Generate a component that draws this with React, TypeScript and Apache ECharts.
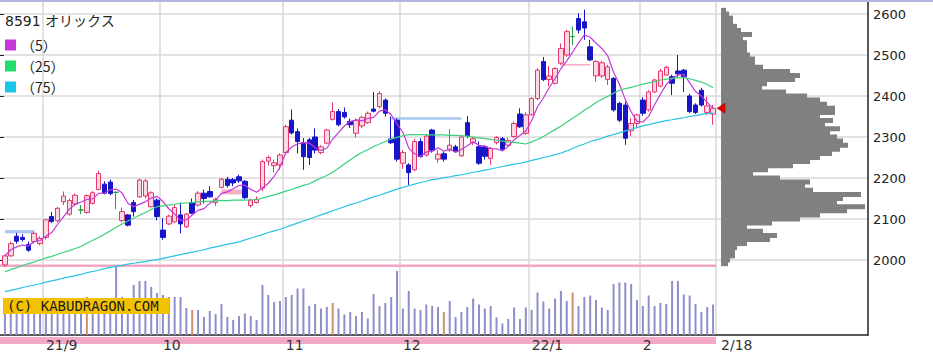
import React, { useEffect, useRef } from 'react';
import * as echarts from 'echarts';

// Trading days shown (late Aug 2021 - 18 Feb 2022)
const aug21 = [23, 24, 25, 26, 27, 30, 31];
const sep21 = [1, 2, 3, 6, 7, 8, 9, 10, 13, 14, 15, 16, 17, 21, 22, 24, 27, 28, 29, 30];
const oct21 = [1, 4, 5, 6, 7, 8, 11, 12, 13, 14, 15, 18, 19, 20, 21, 22, 25, 26, 27, 28, 29];
const nov21 = [1, 2, 4, 5, 8, 9, 10, 11, 12, 15, 16, 17, 18, 19, 22, 24, 25, 26, 29, 30];
const dec21 = [1, 2, 3, 6, 7, 8, 9, 10, 13, 14, 15, 16, 17, 20, 21, 22, 23, 24, 27, 28, 29, 30];
const jan22 = [4, 5, 6, 7, 11, 12, 13, 14, 17, 18, 19, 20, 21, 24, 25, 26, 27, 28, 31];
const feb22 = [1, 2, 3, 4, 7, 8, 9, 10, 14, 15, 16, 17, 18];
const monthKeys = ['2021/08', '2021/09', '2021/10', '2021/11', '2021/12', '2022/01', '2022/02'];
const monthDays = [aug21, sep21, oct21, nov21, dec21, jan22, feb22];
const monthTickLabels = ['', '21/9', '10', '11', '12', '22/1', '2'];
const lastDateLabel = '2/18';

const opens = [
  1988, 2010, 2058, 2055, 2038, 2045, 2040, 2055, 2106, 2096,
  2142, 2112, 2137, 2122, 2116, 2138, 2172, 2185, 2190, 2165,
  2096, 2110, 2140, 2154, 2156, 2130, 2146, 2073, 2088, 2093,
  2110, 2081, 2140, 2134, 2163, 2167, 2140, 2177, 2197, 2196,
  2203, 2192, 2133, 2140, 2175, 2241, 2230, 2232, 2262, 2341,
  2313, 2286, 2293, 2300, 2262, 2285, 2343, 2362, 2360, 2338,
  2309, 2327, 2335, 2368, 2374, 2390, 2295, 2341, 2236, 2232,
  2220, 2289, 2256, 2317, 2246, 2259, 2268, 2276, 2254, 2335,
  2286, 2276, 2276, 2248, 2286, 2296, 2280, 2301, 2356, 2309,
  2354, 2394, 2484, 2440, 2431, 2480, 2500, 2545, 2589, 2581,
  2520, 2449, 2449, 2440, 2443, 2382, 2378, 2315, 2333, 2390,
  2366, 2410, 2424, 2451, 2447, 2461, 2463, 2400, 2378, 2414,
  2360, 2356,
];
const closes = [
  2010, 2040, 2046, 2050, 2024, 2065, 2053, 2098, 2094, 2126,
  2156, 2145, 2158, 2122, 2157, 2164, 2211, 2163, 2162, 2165,
  2118, 2085, 2118, 2195, 2193, 2164, 2106, 2055, 2107, 2128,
  2088, 2112, 2114, 2163, 2150, 2154, 2148, 2197, 2182, 2188,
  2193, 2152, 2146, 2148, 2240, 2250, 2237, 2256, 2325, 2310,
  2289, 2252, 2250, 2268, 2276, 2317, 2362, 2330, 2349, 2330,
  2340, 2348, 2358, 2363, 2406, 2358, 2286, 2246, 2262, 2213,
  2289, 2252, 2302, 2268, 2258, 2246, 2280, 2264, 2300, 2303,
  2296, 2236, 2253, 2272, 2299, 2270, 2292, 2333, 2325, 2354,
  2394, 2463, 2440, 2449, 2467, 2516, 2557, 2545, 2561, 2566,
  2488, 2484, 2481, 2471, 2366, 2341, 2297, 2333, 2354, 2358,
  2410, 2439, 2461, 2470, 2431, 2454, 2447, 2362, 2360, 2378,
  2376, 2370,
];
const lows = [
  1983, 2008, 2040, 2045, 2020, 2040, 2036, 2050, 2090, 2092,
  2134, 2108, 2132, 2112, 2113, 2135, 2170, 2160, 2158, 2124,
  2092, 2082, 2106, 2152, 2150, 2128, 2097, 2049, 2085, 2090,
  2065, 2078, 2112, 2130, 2138, 2152, 2132, 2175, 2177, 2180,
  2188, 2148, 2128, 2138, 2168, 2230, 2213, 2220, 2258, 2306,
  2260, 2220, 2232, 2260, 2258, 2282, 2340, 2326, 2345, 2322,
  2299, 2322, 2332, 2360, 2370, 2350, 2283, 2240, 2222, 2183,
  2216, 2250, 2252, 2262, 2237, 2240, 2264, 2262, 2252, 2297,
  2280, 2232, 2245, 2232, 2282, 2268, 2276, 2298, 2322, 2305,
  2352, 2390, 2436, 2424, 2428, 2476, 2496, 2524, 2553, 2537,
  2485, 2435, 2444, 2427, 2362, 2336, 2281, 2302, 2322, 2352,
  2362, 2407, 2421, 2449, 2402, 2447, 2410, 2358, 2356, 2374,
  2354, 2330,
];
const highs = [
  2013, 2045, 2066, 2063, 2045, 2070, 2058, 2100, 2117, 2130,
  2167, 2150, 2162, 2134, 2160, 2168, 2218, 2192, 2196, 2168,
  2128, 2112, 2146, 2198, 2198, 2168, 2150, 2102, 2110, 2135,
  2140, 2115, 2150, 2168, 2172, 2180, 2152, 2200, 2203, 2200,
  2208, 2195, 2150, 2155, 2245, 2255, 2245, 2260, 2330, 2367,
  2321, 2297, 2298, 2321, 2280, 2320, 2384, 2368, 2372, 2345,
  2345, 2352, 2362, 2410, 2412, 2394, 2350, 2345, 2268, 2236,
  2295, 2297, 2306, 2320, 2268, 2264, 2319, 2281, 2305, 2351,
  2300, 2289, 2280, 2276, 2302, 2300, 2298, 2338, 2370, 2360,
  2397, 2468, 2495, 2473, 2470, 2528, 2562, 2569, 2602, 2611,
  2537, 2488, 2486, 2476, 2446, 2386, 2386, 2346, 2357, 2397,
  2414, 2442, 2466, 2474, 2452, 2500, 2466, 2405, 2382, 2420,
  2398, 2378,
];
const dojiDays = [13, 19, 97];

const ma25 = [
  1971, 1977, 1981, 1986, 1991, 1995, 2000, 2005, 2009, 2014,
  2019, 2023, 2028, 2033, 2041, 2048, 2055, 2063, 2071, 2080,
  2088, 2095, 2102, 2109, 2116, 2123, 2130, 2132, 2134, 2136,
  2138, 2139, 2140, 2142, 2143, 2143, 2144, 2145, 2145, 2146,
  2146, 2146, 2147, 2147, 2151, 2155, 2159, 2163, 2168, 2172,
  2177, 2182, 2186, 2193, 2200, 2206, 2214, 2224, 2234, 2244,
  2254, 2262, 2269, 2277, 2283, 2289, 2295, 2299, 2303, 2306,
  2306, 2306, 2305, 2305, 2305, 2305, 2304, 2304, 2303, 2302,
  2300, 2298, 2296, 2294, 2292, 2290, 2288, 2287, 2285, 2283,
  2288, 2294, 2301, 2310, 2318, 2326, 2336, 2346, 2355, 2365,
  2374, 2384, 2392, 2399, 2407, 2414, 2418, 2421, 2425, 2429,
  2432, 2435, 2439, 2441, 2443, 2445, 2445, 2442, 2438, 2434,
  2428, 2420,
];
const ma75 = [
  1923, 1926, 1929, 1933, 1936, 1939, 1942, 1946, 1949, 1952,
  1956, 1959, 1962, 1965, 1969, 1972, 1975, 1979, 1982, 1985,
  1987, 1990, 1992, 1994, 1996, 1999, 2001, 2004, 2007, 2010,
  2013, 2016, 2019, 2022, 2025, 2029, 2032, 2035, 2038, 2041,
  2044, 2049, 2053, 2058, 2062, 2067, 2071, 2075, 2080, 2085,
  2090, 2095, 2100, 2105, 2110, 2115, 2120, 2125, 2130, 2135,
  2139, 2144, 2149, 2154, 2158, 2163, 2168, 2173, 2177, 2181,
  2185, 2189, 2192, 2196, 2198, 2201, 2203, 2206, 2208, 2211,
  2214, 2216, 2219, 2222, 2225, 2228, 2231, 2234, 2236, 2239,
  2243, 2246, 2250, 2253, 2257, 2261, 2266, 2272, 2278, 2283,
  2289, 2293, 2297, 2302, 2306, 2310, 2315, 2319, 2323, 2327,
  2330, 2334, 2337, 2340, 2342, 2345, 2347, 2350, 2352, 2355,
  2357, 2359,
];

// daily volume (10k shares)
const volumes = [
  560, 520, 600, 480, 540, 600, 500, 640, 560, 600,
  520, 580, 540, 500, 760, 600, 660, 620, 600, 1380,
  760, 700, 1000, 1080, 1080, 960, 840, 800, 760, 760,
  760, 540, 500, 500, 360, 480, 420, 620, 360, 300,
  380, 430, 380, 300, 1000, 800, 660, 680, 760, 800,
  930, 930, 580, 620, 530, 560, 640, 530, 410, 460,
  380, 460, 330, 820, 580, 640, 760, 1280, 530, 880,
  530, 500, 610, 580, 560, 460, 680, 360, 460, 560,
  730, 610, 530, 580, 350, 230, 320, 550, 320, 550,
  500, 850, 670, 530, 730, 880, 680, 850, 580, 760,
  790, 700, 550, 500, 1020, 1050, 1050, 1020, 700, 580,
  790, 580, 640, 620, 1080, 1080, 810, 790, 620, 460,
  560, 610,
];
const highlightedVolumeDays = [14, 32, 56, 75, 97];

// price-by-volume profile, 10-yen bins from 1990 to 2610
const profileBinStart = 1990;
const profileBinStep = 10;
const profileVolumes = [
  7, 9, 14, 14, 16, 26, 49, 56, 42, 26,
  51, 79, 99, 126, 144, 116, 122, 140, 92, 84,
  89, 59, 32, 47, 72, 89, 99, 111, 119, 127,
  122, 116, 109, 119, 104, 112, 99, 114, 114, 106,
  99, 86, 65, 41, 46, 74, 79, 69, 42, 34,
  34, 29, 26, 26, 26, 22, 31, 20, 16, 12,
  12, 8, 5,
];

// price gaps ("windows"): [fromDay, toDay, low, high]
const gapsDown = [[0, 5, 2065, 2073], [66, 78, 2342, 2348]];
const gapsUp = [[37, 41, 2160, 2172], [95, 100, 2474, 2478]];

const maLegend = ['（5）', '（25）', '（75）'];
const stockTitle = '8591 オリックス';
const watermark = '(C) KABUDRAGON.COM';

export default function App() {
  const ref = useRef<HTMLDivElement>(null);

  useEffect(() => {
    const dates: string[] = [];
    const monthStart = new Map<number, string>();
    monthDays.forEach((days, m) => {
      days.forEach((d, k) => {
        if (k === 0 && monthTickLabels[m]) monthStart.set(dates.length, monthTickLabels[m]);
        dates.push(`${monthKeys[m]}/${String(d).padStart(2, '0')}`);
      });
    });
    const lastIdx = dates.length - 1;

    const candles = dates.map((_, i) => {
      const item: any = { value: [opens[i], closes[i], lows[i], highs[i]] };
      if (dojiDays.includes(i)) {
        item.itemStyle = { color: '#22a040', color0: '#22a040', borderColor: '#22a040', borderColor0: '#22a040' };
      }
      return item;
    });
    const ma5 = closes.map((_, i) => {
      const s = closes.slice(Math.max(0, i - 4), i + 1);
      return Math.round((s.reduce((a, b) => a + b, 0) / s.length) * 10) / 10;
    });
    const volData = volumes.map((v, i) => ({
      value: v,
      itemStyle: { color: highlightedVolumeDays.includes(i) ? '#d4906c' : '#8e8ecc' },
    }));
    const profileBins = profileVolumes.map((_, k) => String(profileBinStart + k * profileBinStep));

    const FONT = '"DejaVu Sans"';
    const JP = '"Noto Sans CJK JP"';

    const markAreaData = [
      ...gapsDown.map(([a, b, lo, hi]) => [
        { coord: [a, lo], itemStyle: { color: '#a9c8f2' } },
        { coord: [b, hi] },
      ]),
      ...gapsUp.map(([a, b, lo, hi]) => [
        { coord: [a, lo], itemStyle: { color: '#f6b0c8' } },
        { coord: [b, hi] },
      ]),
    ];

    const option: any = {
      animation: false,
      backgroundColor: '#ffffff',
      title: {
        text: stockTitle,
        left: 5,
        top: 14,
        padding: 0,
        textStyle: { fontSize: 14, fontWeight: 'normal', fontFamily: `${FONT}, ${JP}`, color: '#222' },
      },
      legend: {
        data: maLegend,
        orient: 'vertical',
        left: 5,
        top: 38,
        padding: 0,
        itemWidth: 11,
        itemHeight: 11,
        itemGap: 7,
        icon: 'rect',
        selectedMode: false,
        textStyle: { fontSize: 14, fontFamily: JP, color: '#222' },
      },
      grid: [
        { left: 2, top: 2, width: 714, bottom: 19 },
        { left: 2, top: 3.75, width: 714, height: 338.25 },
        { left: 0, top: 14, width: 868, height: 246 },
        { left: 721, top: 7.85, width: 147, height: 258.3 },
        { left: 0, top: 2, width: 868, height: 333 },
      ],
      xAxis: [
        {
          gridIndex: 0,
          type: 'category',
          data: dates,
          boundaryGap: true,
          axisLine: { show: false },
          axisTick: { show: false },
          axisLabel: {
            interval: (i: number) => monthStart.has(i) || i === lastIdx,
            formatter: (_v: string, i: number) => (i === lastIdx ? `{e|${lastDateLabel}}` : monthStart.get(i) || ''),
            align: 'left',
            margin: 3,
            fontSize: 14,
            fontFamily: FONT,
            color: '#333',
            rich: { e: { padding: [0, 0, 0, 8], fontSize: 14, fontFamily: FONT, color: '#333' } },
          },
          splitLine: {
            show: true,
            interval: (i: number) => monthStart.has(i),
            lineStyle: { color: '#d9d9d9', width: 1.5 },
          },
        },
        { gridIndex: 1, type: 'category', data: dates, boundaryGap: true, show: false },
        { gridIndex: 2, type: 'value', min: 0, max: 1, show: false },
        { gridIndex: 3, type: 'value', min: 0, max: 147, show: false },
        {
          gridIndex: 4,
          type: 'value',
          min: 0,
          max: 1,
          axisLine: { show: true, onZero: false, lineStyle: { color: '#222', width: 1.5 } },
          axisTick: { show: false },
          axisLabel: { show: false },
          splitLine: { show: false },
        },
      ],
      yAxis: [
        { gridIndex: 0, type: 'value', min: 0, max: 6660, show: false },
        { gridIndex: 1, type: 'value', min: 1800, max: 2625, show: false },
        {
          gridIndex: 2,
          type: 'value',
          position: 'right',
          min: 2000,
          max: 2600,
          interval: 100,
          axisLine: { show: false },
          axisTick: { show: true, length: 4, lineStyle: { color: '#222', width: 1 } },
          axisLabel: {
            margin: 5,
            fontSize: 13,
            fontFamily: FONT,
            color: '#222',
            formatter: (v: number) => String(v),
          },
          splitLine: { show: true, lineStyle: { color: '#d9d9d9', width: 1.5 } },
        },
        { gridIndex: 3, type: 'category', data: profileBins, show: false },
        {
          gridIndex: 4,
          type: 'value',
          position: 'right',
          min: 0,
          max: 1,
          axisLine: { show: true, onZero: false, lineStyle: { color: '#222', width: 1.5 } },
          axisTick: { show: false },
          axisLabel: { show: false },
          splitLine: { show: false },
        },
      ],
      graphic: [
        { type: 'rect', shape: { x: 0, y: 0, width: 933, height: 2 }, style: { fill: '#b4b4e2' }, z: 100 },
        { type: 'rect', shape: { x: 0, y: 264.5, width: 716, height: 2.5 }, style: { fill: '#f2a6c6' }, z: 1 },
        { type: 'rect', shape: { x: 0, y: 337, width: 716, height: 7 }, style: { fill: '#f4a8c8' }, z: -1 },
        { type: 'rect', shape: { x: 3, y: 298, width: 166, height: 16 }, style: { fill: '#f2c200' }, z: 100 },
        {
          type: 'text',
          x: 7,
          y: 306,
          z: 101,
          style: {
            text: watermark,
            font: '14px "DejaVu Sans Mono"',
            fill: '#1a1a1a',
            verticalAlign: 'middle',
            textVerticalAlign: 'middle',
          },
        },
      ],
      series: [
        {
          name: 'volume',
          type: 'bar',
          xAxisIndex: 0,
          yAxisIndex: 0,
          data: volData,
          barWidth: 2,
          silent: true,
        },
        {
          name: 'price',
          type: 'candlestick',
          xAxisIndex: 1,
          yAxisIndex: 1,
          data: candles,
          barWidth: 5,
          itemStyle: {
            color: '#fdd8e3',
            color0: '#1616c8',
            borderColor: '#e2386e',
            borderColor0: '#1616c8',
            borderWidth: 1,
          },
          markArea: { silent: true, data: markAreaData },
          markPoint: {
            symbol: 'triangle',
            symbolSize: [10, 8],
            symbolRotate: 90,
            symbolOffset: [8, 0],
            itemStyle: { color: '#e00000', borderColor: '#900000', borderWidth: 0.5 },
            label: { show: false },
            data: [{ coord: [lastIdx, closes[lastIdx]] }],
          },
        },
        {
          name: maLegend[0],
          type: 'line',
          xAxisIndex: 1,
          yAxisIndex: 1,
          data: ma5,
          symbol: 'none',
          color: '#c438d8',
          lineStyle: { color: '#c438d8', width: 1.2 },
          silent: true,
        },
        {
          name: maLegend[1],
          type: 'line',
          xAxisIndex: 1,
          yAxisIndex: 1,
          data: ma25,
          symbol: 'none',
          color: '#22dc70',
          lineStyle: { color: '#3ad27a', width: 1.2 },
          silent: true,
        },
        {
          name: maLegend[2],
          type: 'line',
          xAxisIndex: 1,
          yAxisIndex: 1,
          data: ma75,
          symbol: 'none',
          color: '#18c6e6',
          lineStyle: { color: '#28c2e2', width: 1.2 },
          silent: true,
        },
        {
          name: 'profile',
          type: 'bar',
          xAxisIndex: 3,
          yAxisIndex: 3,
          data: profileVolumes,
          barWidth: 5,
          itemStyle: { color: '#808080' },
          silent: true,
        },
      ],
    };

    const chart = echarts.init(ref.current!, null, { renderer: 'svg' });
    chart.setOption(option);
    return () => chart.dispose();
  }, []);

  return (
    <div
      ref={ref}
      style={{ position: 'fixed', left: 0, top: 0, width: 933, height: 354, background: '#fff' }}
    />
  );
}
